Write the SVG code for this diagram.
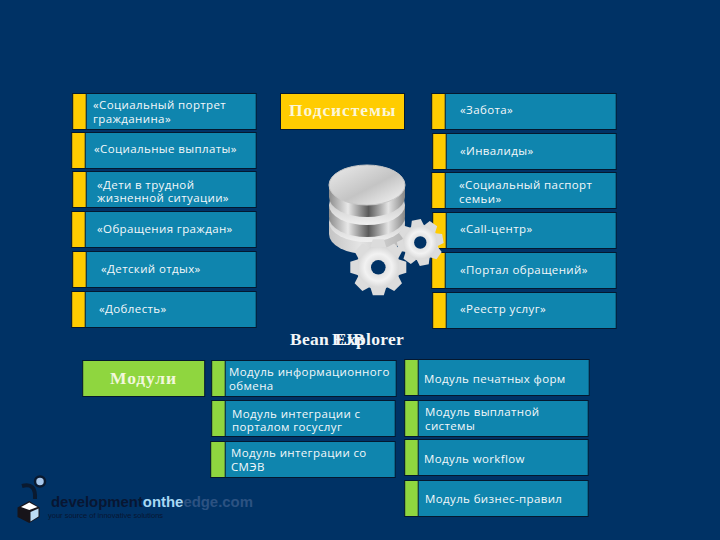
<svg xmlns="http://www.w3.org/2000/svg" xmlns:xlink="http://www.w3.org/1999/xlink" width="720" height="540" viewBox="0 0 720 540">
<style>
.bx{fill:#0f85ae;stroke:#04182f;stroke-width:1}
.y{fill:#ffcc00;stroke:#04182f;stroke-width:1}
.g{fill:#8fd63f;stroke:#04182f;stroke-width:1}
.t{font-family:"Open Sans","Noto Sans",sans-serif;font-size:11.5px;fill:#f4f8fa;letter-spacing:.38px}
.h{font-family:"Liberation Serif",serif;font-weight:bold;font-size:17.5px;fill:#fbf6d8;letter-spacing:.9px}
.w{fill:#f2f6f8;letter-spacing:.3px}
</style>
<defs>
<linearGradient id="top" x1="0" y1="0" x2="1" y2="1"><stop offset="0" stop-color="#ececec"/><stop offset=".55" stop-color="#c4c4c4"/><stop offset=".72" stop-color="#d8d8d8"/><stop offset="1" stop-color="#f6f6f6"/></linearGradient>
<linearGradient id="side" x1="0" y1="0" x2="1" y2="0"><stop offset="0" stop-color="#8c8c8c"/><stop offset=".25" stop-color="#e8e8e8"/><stop offset=".52" stop-color="#5a5a5a"/><stop offset=".78" stop-color="#e4e4e4"/><stop offset="1" stop-color="#868686"/></linearGradient>
<linearGradient id="face" x1="0" y1="0" x2="0" y2="1"><stop offset="0" stop-color="#b0b0b0"/><stop offset="1" stop-color="#f0f0f0"/></linearGradient>
<linearGradient id="low" x1="0" y1="0" x2="1" y2="0"><stop offset="0" stop-color="#c4c4c4"/><stop offset=".4" stop-color="#e4e4e4"/><stop offset="1" stop-color="#b4b4b4"/></linearGradient>
<radialGradient id="gr"><stop offset=".3" stop-color="#e0e0e0"/><stop offset=".62" stop-color="#f2f2f2"/><stop offset="1" stop-color="#d4d4d4"/></radialGradient>
<g id="gear">
<circle r="22" fill="url(#gr)"/>
<path id="tooth" d="M-8-20-5.500-28H5.500L8-20Z" fill="#dcdcdc"/>
<use xlink:href="#tooth" transform="rotate(45)"/><use xlink:href="#tooth" transform="rotate(90)"/><use xlink:href="#tooth" transform="rotate(135)"/><use xlink:href="#tooth" transform="rotate(180)"/><use xlink:href="#tooth" transform="rotate(225)"/><use xlink:href="#tooth" transform="rotate(270)"/><use xlink:href="#tooth" transform="rotate(315)"/>
</g>
</defs>
<rect width="720" height="540" fill="#003265"/>
<g id="n-1"><rect class="bx" x="72.700" y="93.500" width="183.500" height="36"/><rect class="y" x="72.700" y="93.500" width="13.500" height="36"/><text class="t" x="93" y="109">«Социальный портрет</text><text class="t" x="93" y="123">гражданина»</text></g>
<g id="n-2"><rect class="bx" x="71.700" y="132.500" width="184.500" height="36"/><rect class="y" x="71.700" y="132.500" width="13.500" height="36"/><text class="t" x="94" y="153">«Социальные выплаты»</text></g>
<g id="n-3"><rect class="bx" x="72.700" y="171.500" width="183.500" height="36"/><rect class="y" x="72.700" y="171.500" width="13.500" height="36"/><text class="t" x="97" y="189">«Дети в трудной</text><text class="t" x="97" y="202">жизненной ситуации»</text></g>
<g id="n-4"><rect class="bx" x="71.700" y="211.500" width="184.500" height="36"/><rect class="y" x="71.700" y="211.500" width="13.500" height="36"/><text class="t" x="97" y="233">«Обращения граждан»</text></g>
<g id="n-5"><rect class="bx" x="72.700" y="251.500" width="183.500" height="36"/><rect class="y" x="72.700" y="251.500" width="13.500" height="36"/><text class="t" x="101" y="273">«Детский отдых»</text></g>
<g id="n-6"><rect class="bx" x="71.700" y="291.500" width="184.500" height="36"/><rect class="y" x="71.700" y="291.500" width="13.500" height="36"/><text class="t" x="99" y="313">«Доблесть»</text></g>
<g id="n-7"><rect class="bx" x="431.700" y="93.500" width="184.500" height="36"/><rect class="y" x="431.700" y="93.500" width="13.500" height="36"/><text class="t" x="460" y="114">«Забота»</text></g>
<g id="n-8"><rect class="bx" x="432.700" y="133.500" width="183.500" height="36"/><rect class="y" x="432.700" y="133.500" width="13.500" height="36"/><text class="t" x="460" y="155">«Инвалиды»</text></g>
<g id="n-9"><rect class="bx" x="431.700" y="172.500" width="184.500" height="36"/><rect class="y" x="431.700" y="172.500" width="13.500" height="36"/><text class="t" x="459" y="189">«Социальный паспорт</text><text class="t" x="459" y="203">семьи»</text></g>
<g id="n-10"><rect class="bx" x="432.700" y="212.500" width="183.500" height="36"/><rect class="y" x="432.700" y="212.500" width="13.500" height="36"/><text class="t" x="460" y="233">«Call-центр»</text></g>
<g id="n-11"><rect class="bx" x="431.700" y="252.500" width="184.500" height="36"/><rect class="y" x="431.700" y="252.500" width="13.500" height="36"/><text class="t" x="460" y="274">«Портал обращений»</text></g>
<g id="n-12"><rect class="bx" x="432.700" y="292.500" width="183.500" height="36"/><rect class="y" x="432.700" y="292.500" width="13.500" height="36"/><text class="t" x="460" y="313">«Реестр услуг»</text></g>
<g id="n-13"><rect class="y" x="280.500" y="93.500" width="124" height="36"/><text class="h" x="289" y="116">Подсистемы</text></g>
<g id="db">
<path d="M329 222V234A38 20 0 0 0 405 234V222Z" fill="url(#low)"/>
<ellipse cx="367" cy="222" rx="38" ry="20" fill="url(#face)"/>
<path d="M329 205V217A38 20 0 0 0 405 217V205Z" fill="url(#side)"/>
<ellipse cx="367" cy="205" rx="38" ry="20" fill="url(#face)"/>
<path d="M329 185V197A38 20 0 0 0 405 197V185Z" fill="url(#side)"/>
<ellipse cx="367" cy="185" rx="38" ry="20" fill="url(#top)" stroke="#c8c8c8"/>
</g>
<g id="gears">
<use xlink:href="#gear" transform="translate(420.300 242.500) scale(.82) rotate(-10)"/><circle cx="420.300" cy="242.500" r="6.200" fill="#003265"/>
<use xlink:href="#gear" transform="translate(378.300 267.300)"/><circle cx="378.300" cy="267.300" r="7.300" fill="#003265"/>
</g>
<g id="n-14"><text class="h w" x="290" y="345">Bean</text><text class="h w" x="332" y="345">EJB</text><text class="h w" x="335" y="345">Explorer</text></g>
<g id="n-15"><rect class="g" x="82.700" y="360.500" width="122" height="36"/><text class="h" x="110" y="384" style="fill:#f2f7dc">Модули</text></g>
<g id="n-16"><rect class="bx" x="211.700" y="360.500" width="184.500" height="36"/><rect class="g" x="211.700" y="360.500" width="13.500" height="36"/><text class="t" x="229" y="376">Модуль информационного</text><text class="t" x="229" y="390">обмена</text></g>
<g id="n-17"><rect class="bx" x="211.700" y="400.500" width="183.500" height="36"/><rect class="g" x="211.700" y="400.500" width="13.500" height="36"/><text class="t" x="232" y="418">Модуль интеграции с</text><text class="t" x="232" y="431">порталом госуслуг</text></g>
<g id="n-18"><rect class="bx" x="210.700" y="441.500" width="184.500" height="36"/><rect class="g" x="210.700" y="441.500" width="14.500" height="36"/><text class="t" x="231" y="457">Модуль интеграции со</text><text class="t" x="231" y="471">СМЭВ</text></g>
<g id="n-19"><rect class="bx" x="404.700" y="359.500" width="184.500" height="36"/><rect class="g" x="404.700" y="359.500" width="13.500" height="36"/><text class="t" x="424" y="383">Модуль печатных форм</text></g>
<g id="n-20"><rect class="bx" x="404.700" y="400.500" width="183.500" height="36"/><rect class="g" x="404.700" y="400.500" width="13.500" height="36"/><text class="t" x="425" y="416">Модуль выплатной</text><text class="t" x="425" y="430">системы</text></g>
<g id="n-21"><rect class="bx" x="404.700" y="439.500" width="183.500" height="36"/><rect class="g" x="404.700" y="439.500" width="13.500" height="36"/><text class="t" x="424" y="463">Модуль workflow</text></g>
<g id="n-22"><rect class="bx" x="404.700" y="480.500" width="183.500" height="36"/><rect class="g" x="404.700" y="480.500" width="13.500" height="36"/><text class="t" x="425" y="503">Модуль бизнес-правил</text></g>
<g id="logo">
<path d="M22 486Q36 482 35 499" fill="none" stroke="#0a1a30" stroke-width="4"/>
<circle cx="40" cy="481.500" r="5" fill="#a8c8ec" stroke="#0a1a30" stroke-width="2.500"/>
<path d="M17.500 507.500 29.300 501 39.500 507.500V517L29.300 523 17.500 517Z" fill="#17141a"/>
<path d="M21 507 29.300 502.500 37.500 507 29.300 510Z" fill="#fff"/>
<path d="M30.500 512 38.500 508.500V516.500L30.500 521.500Z" fill="#bcdcf4"/>
<text font-family="'Liberation Sans',sans-serif" font-weight="bold" font-size="14.900px" x="51" y="507"><tspan fill="#081632">development</tspan><tspan fill="#a8d8f4">onthe</tspan><tspan fill="#2c5282">edge.com</tspan></text>
<text font-family="'Liberation Sans',sans-serif" font-size="7.500px" x="48" y="518" fill="#081632">your source of innovative solutions</text>
</g>
</svg>
